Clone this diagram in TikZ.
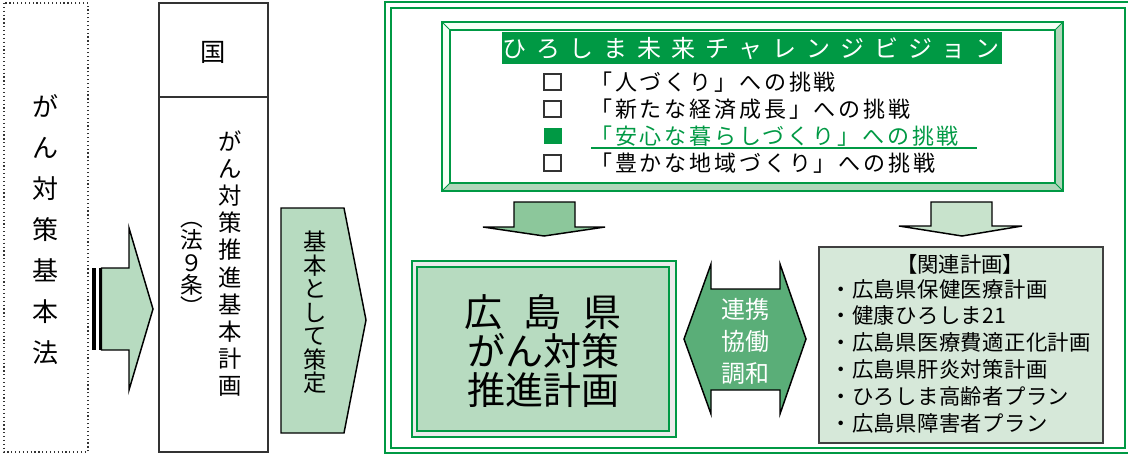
\documentclass[tikz,border=0pt]{standalone}
\usepackage{fontspec}
\setmainfont{Noto Sans CJK JP}
\usepackage{xcolor}
\definecolor{hgreen}{RGB}{0,153,68}
\definecolor{palegreen}{RGB}{183,219,192}
\definecolor{midgreen}{RGB}{140,199,155}
\definecolor{lightgreen}{RGB}{200,227,204}
\definecolor{deepgreen}{RGB}{90,174,120}
\definecolor{relgreen}{RGB}{214,232,217}
\definecolor{bevelgreen}{RGB}{176,214,186}
\definecolor{mygray}{gray}{0.2}

\begin{document}
\begin{tikzpicture}[x=0.75pt,y=-0.75pt,
  blockarrow/.style={draw=black, line width=1.1pt, line join=miter},
  tate/.style={align=center, inner sep=0pt},
  checkbox/.style={draw=mygray, line width=1.3pt}]
\useasboundingbox (0,0) rectangle (1128,455);

% the law
\draw[mygray, dotted, line width=0.9pt] (4,3) rectangle (88,452);
\node[tate, font=\fontsize{19.5}{30.75}\selectfont] (law) at (45,229.5) {が\\ん\\対\\策\\基\\本\\法};

\fill (92,268) rectangle (96,350);
\fill (98.5,268) rectangle (101.5,350);
\filldraw[blockarrow, fill=palegreen] (101.5,268) -- (129,268) -- (129,228) -- (153,309) -- (129,390) -- (129,350) -- (101.5,350) -- cycle;

% national plan
\draw[mygray, line width=0.9pt] (159,3) rectangle (268,452);
\draw[mygray, line width=0.9pt] (159,97) -- (268,97);
\node[font=\fontsize{19}{19}\selectfont] (kuni) at (213,52) {国};
\node[tate, font=\fontsize{17.5}{20.4}\selectfont] (kplan) at (230,263.5) {が\\ん\\対\\策\\推\\進\\基\\本\\計\\画};
\node[tate, font=\fontsize{17}{16.8}\selectfont] (art9) at (192,263) {\vphantom{国}︵\\法\\９\\条\\︶\vphantom{国}};

\filldraw[blockarrow, fill=palegreen] (281,208) -- (344,208) -- (366,320) -- (344,433) -- (281,433) -- cycle;
\node[tate, font=\fontsize{17.5}{17.6}\selectfont] (sakutei) at (315,312.5) {基\\本\\と\\し\\て\\策\\定};

% prefecture frame
\draw[hgreen, line width=1.5pt] (385,2) rectangle (1131,453);
\draw[hgreen, line width=1.5pt] (391,8) rectangle (1125,448);

% vision box
\fill[bevelgreen] (442,22) rectangle (1063,191);
\fill[green!4] (442,22) -- (1063,22) -- (1055,30) -- (450,30) -- (450,183) -- (442,191) -- cycle;
\fill[white] (450,30) rectangle (1055,183);
\draw[hgreen, line width=1.2pt] (442,22) rectangle (1063,191);
\draw[hgreen, line width=1.2pt] (450,30) rectangle (1055,183);
\draw[hgreen, line width=0.6pt] (442,22) -- (450,30);
\draw[hgreen, line width=0.6pt] (1063,22) -- (1055,30);
\draw[hgreen, line width=0.6pt] (1063,191) -- (1055,183);
\draw[hgreen, line width=0.6pt] (442,191) -- (450,183);

\fill[hgreen] (502,32) rectangle (1002,64);
\node[anchor=west, inner sep=0pt, text=white, font=\fontsize{18}{18}\selectfont\addfontfeature{LetterSpace=41}] (vtitle) at (502,48) {ひろしま未来チャレンジビジョン};

\draw[checkbox] (544,74) rectangle (561,90);
\draw[checkbox] (544,101) rectangle (561,117);
\fill[hgreen] (544,128) rectangle (562,144);
\draw[checkbox] (544,155) rectangle (561,171);

\node[anchor=west, align=left, inner sep=0pt, font=\fontsize{16.5}{20.25}\selectfont\addfontfeature{LetterSpace=13}] (vitems) at (590,122.5) {「人づくり」への挑戦\\「新たな経済成長」への挑戦\\{\color{hgreen}「安心な暮らしづくり」への挑戦}\\「豊かな地域づくり」への挑戦};
\draw[hgreen, line width=0.9pt] (591,148) -- (977,148);

% down arrows
\filldraw[blockarrow, fill=midgreen] (514,202) -- (575,202) -- (575,227) -- (605,227) -- (544,236) -- (483,227) -- (514,227) -- cycle;
\filldraw[blockarrow, fill=lightgreen] (931,202) -- (992,202) -- (992,226) -- (1022,226) -- (962,236) -- (899,226) -- (931,226) -- cycle;

% prefecture plan
\draw[hgreen, line width=0.8pt, fill=black!8] (412,261) rectangle (676,437);
\draw[hgreen, line width=2pt, fill=palegreen] (417,267) rectangle (669,431);
\node[align=center, font=\fontsize{28.5}{29.25}\selectfont] (kenplan) at (543,351) {広\hspace{16.5pt}島\hspace{16.5pt}県\\がん対策\\推進計画};

% cooperation arrow
\filldraw[blockarrow, fill=deepgreen] (684,339) -- (711,264) -- (711,289) -- (780,289) -- (780,264) -- (806,339) -- (780,414) -- (780,390) -- (711,390) -- (711,414) -- cycle;
\node[align=center, text=white, font=\fontsize{18}{24}\selectfont] (renkei) at (745,341) {連携\\協働\\調和};

% related plans
\draw[black!75, line width=0.9pt, fill=relgreen] (819,247) rectangle (1103,443);
\node[font=\fontsize{16}{16}\selectfont] (relhead) at (960,264) {【関連計画】};
\node[anchor=west, align=left, inner sep=0pt, font=\fontsize{16}{20.1}\selectfont\addfontfeature{LetterSpace=2}] (rellist) at (830,356) {・広島県保健医療計画\\・健康ひろしま21\\・広島県医療費適正化計画\\・広島県肝炎対策計画\\・ひろしま高齢者プラン\\・広島県障害者プラン};

\end{tikzpicture}
\end{document}
